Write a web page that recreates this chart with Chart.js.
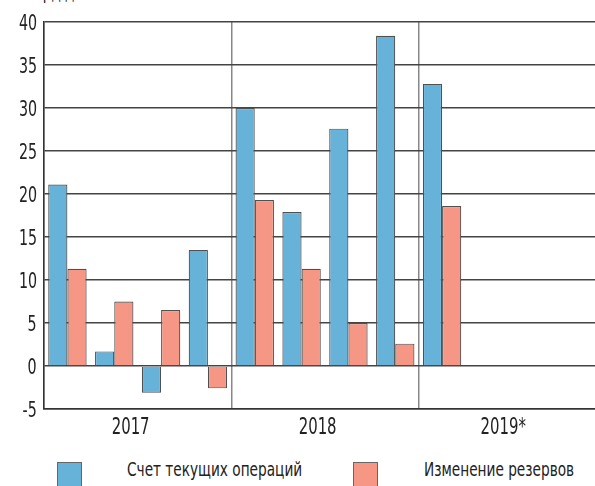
<!DOCTYPE html>
<html>
<head>
<meta charset="utf-8">
<script src="https://cdn.jsdelivr.net/npm/chart.js@4.4.0/dist/chart.umd.min.js"></script>
<style>
    html, body { margin: 0; padding: 0; background: #fff; overflow: hidden; }
    #wrap { position: relative; width: 595px; height: 486px; overflow: hidden;
            font-family: "DejaVu Sans Condensed", "DejaVu Sans", sans-serif; color: #222; }
    #box { position: absolute; left: 0; top: 0; width: 606px; height: 440px; }
    .lbl { position: absolute; white-space: nowrap; line-height: 1; }
    .sq { position: absolute; width: 25px; height: 25px; border: 1px solid #666; box-sizing: border-box; }
    #unit { position: absolute; left: 24px; top: -20px; font-size: 20px;
            transform: scaleX(0.75); transform-origin: left top; }
</style>
</head>
<body>
<div id="wrap">
    <div id="unit">млрд долл.</div>
    <div id="box"><canvas id="mainChart"></canvas></div>
    <div id="labels"></div>
    <div class="sq" style="left:57px; top:462px; background:#66b2d9"></div>
    <div class="lbl" style="left:127px; top:459px; font-size:20px; transform:scaleX(0.76); transform-origin:left top">Счет текущих операций</div>
    <div class="sq" style="left:353px; top:462px; background:#f59784"></div>
    <div class="lbl" style="left:424px; top:459px; font-size:20px; transform:scaleX(0.76); transform-origin:left top">Изменение резервов</div>
</div>

<script>
// -----------------------------
// данные (квартальные)
// -----------------------------
const quarters = ["I 2017", "II 2017", "III 2017", "IV 2017",
                  "I 2018", "II 2018", "III 2018", "IV 2018",
                  "I 2019", "II 2019", "III 2019", "IV 2019"];
const years = ["2017", "2018", "2019*"];

const currentAccount = [21.1, 1.7, -3.1, 13.5, 30.0, 17.9, 27.6, 38.4, 32.8, null, null, null];
const reserveChange  = [11.3, 7.5, 6.5, -2.6, 19.3, 11.3, 5.0, 2.6, 18.6, null, null, null];

const yTicks = [-5, 0, 5, 10, 15, 20, 25, 30, 35, 40];

// -----------------------------
// подписи осей как HTML-текст (узкий шрифт)
// -----------------------------
const htmlLabels = {
    id: "htmlLabels",
    afterDraw(chart) {
        const box = document.getElementById("labels");
        const y = chart.scales.y;
        const yr = chart.scales.yr;
        let html = "";

        yTicks.forEach(v => {
            const py = y.getPixelForValue(v);
            html += `<div class="lbl" style="right:${595 - 37}px; top:${py - 10}px; font-size:22px;
                transform:scaleX(0.72); transform-origin:right top">${v}</div>`;
        });

        years.forEach((t, i) => {
            const px = yr.getPixelForValue(i);
            html += `<div class="lbl" style="left:${px}px; top:${y.bottom + 6}px; font-size:23px;
                transform:translateX(-50%) scaleX(0.72); transform-origin:left top">${t}</div>`;
        });

        box.innerHTML = html;
    }
};

const ctx = document.getElementById("mainChart");

new Chart(ctx, {
    type: "bar",
    data: {
        labels: quarters,
        datasets: [
            {
                label: "Счет текущих операций",
                data: currentAccount,
                backgroundColor: "#66b2d9",
                borderColor: "#505050",
                borderWidth: 1.2,
                categoryPercentage: 0.82,
                barPercentage: 1.0
            },
            {
                label: "Изменение резервов",
                data: reserveChange,
                backgroundColor: "#f59784",
                borderColor: "#505050",
                borderWidth: 1.2,
                categoryPercentage: 0.82,
                barPercentage: 1.0
            }
        ]
    },
    plugins: [htmlLabels],
    options: {
        responsive: true,
        maintainAspectRatio: false,
        animation: false,
        layout: { padding: { left: 0, right: 0, top: 22, bottom: 0 } },
        plugins: {
            legend: { display: false },
            tooltip: { enabled: false }
        },
        scales: {
            x: {
                display: false
            },
            yr: {
                type: "category",
                labels: years,
                position: "bottom",
                offset: true,
                afterFit: axis => { axis.height = 31; },
                grid: {
                    offset: true,
                    color: "#888",
                    lineWidth: 1.5,
                    drawTicks: false
                },
                border: { display: true, color: "#333", width: 1.5 },
                ticks: { display: false }
            },
            y: {
                min: -5,
                max: 40,
                afterBuildTicks: axis => {
                    axis.ticks = yTicks.map(v => ({ value: v }));
                },
                afterFit: axis => { axis.width = 44; },
                grid: {
                    color: "#444",
                    lineWidth: 1.5,
                    drawTicks: false
                },
                border: { display: true, color: "#333", width: 1.5 },
                ticks: { display: false }
            }
        }
    }
});
</script>
</body>
</html>
